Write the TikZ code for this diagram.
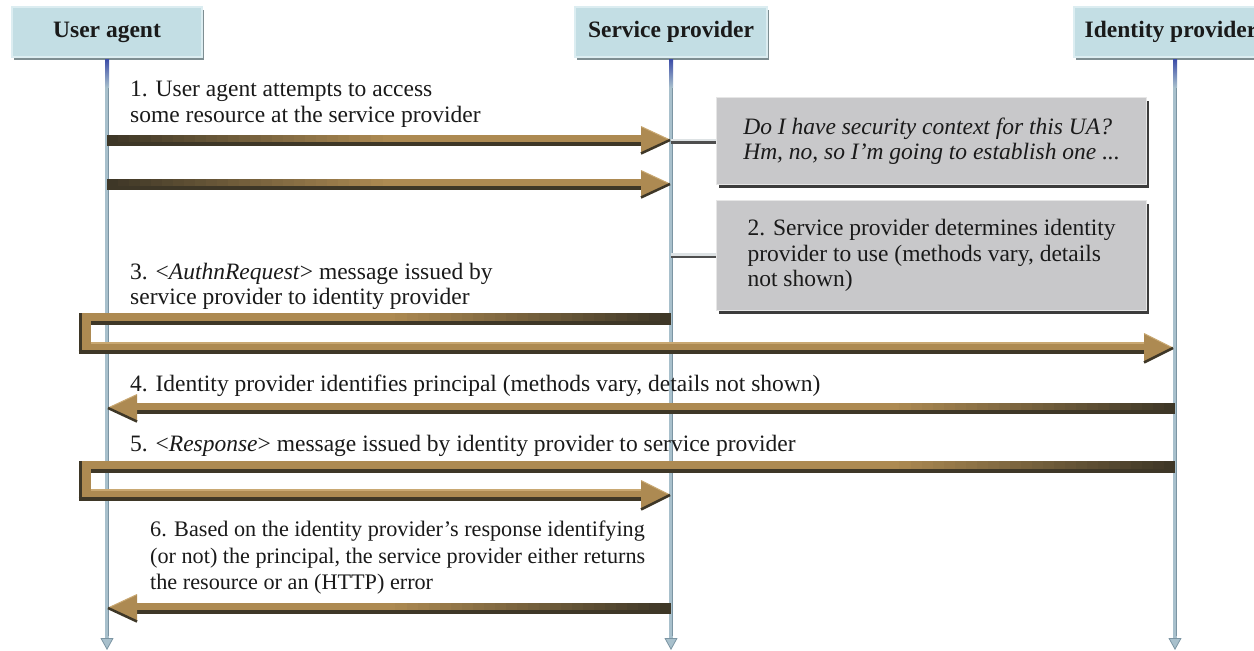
\documentclass[tikz,border=0pt]{standalone}
\usepackage{fontspec}
\setmainfont{Liberation Serif}
\usetikzlibrary{calc,arrows.meta,shadows}
\definecolor{hdrfill}{HTML}{C3DEE4}
\definecolor{hdrline}{HTML}{DCEDF1}
\definecolor{boxfill}{HTML}{C8C8CA}
\definecolor{boxline}{HTML}{E6E6E6}
\definecolor{shadowc}{HTML}{3C3C3C}
\definecolor{hshadow}{HTML}{7E8E92}
\definecolor{lifec}{HTML}{A8C0CC}
\definecolor{lifed}{HTML}{7C95A3}
\definecolor{lifetop}{HTML}{3B4CA8}
\definecolor{gold}{HTML}{AD8A52}
\definecolor{lgold}{HTML}{C9A872}
\definecolor{darkb}{HTML}{3E3727}
\definecolor{txt}{HTML}{1A1A1A}
\definecolor{connlight}{HTML}{DDE2E4}
\definecolor{conndark}{HTML}{4E4E4E}

% gradient at the tail of a message: #1 tail coordinate, #2 direction (1 or -1), #3 top offset, #4 bottom offset
\newcommand\tailgrad[4]{%
  \foreach \i in {0,...,24}{%
    \pgfmathsetmacro\pc{\i*4}%
    \fill[gold!\pc!darkb] ($(#1)+(#2*\i*11,#3)$) rectangle ($(#1)+(#2*\i*11+#2*11.8,#4)$);
  }%
}
\newcommand\msgR[2]{%
  \coordinate (hb) at ($(#2)+(-29,0)$);
  \fill[gold] ($(#1)+(0,-5.5)$) rectangle ($(hb)+(0,5.5)$);
  \tailgrad{#1}{1}{-5.5}{1.5}
  \fill[darkb] ($(#1)+(0,1.5)$) rectangle ($(hb)+(0,5.5)$);
  \fill[gold] (#2) -- ($(hb)+(0,-13.5)$) -- ($(hb)+(0,13.5)$) -- cycle;
  \draw[lgold,line width=1] ($(hb)+(0,-13.5)$) -- (#2);
  \draw[darkb,line width=2.5] ($(hb)+(0,13.5)$) -- (#2);
}
\newcommand\msgL[2]{%
  \coordinate (hb) at ($(#2)+(29,0)$);
  \fill[gold] ($(#1)+(0,-5.5)$) rectangle ($(hb)+(0,5.5)$);
  \tailgrad{#1}{-1}{-5.5}{1.5}
  \fill[darkb] ($(#1)+(0,1.5)$) rectangle ($(hb)+(0,5.5)$);
  \fill[gold] (#2) -- ($(hb)+(0,-13.5)$) -- ($(hb)+(0,13.5)$) -- cycle;
  \draw[lgold,line width=1] ($(hb)+(0,-13.5)$) -- (#2);
  \draw[darkb,line width=2.5] ($(hb)+(0,13.5)$) -- (#2);
}

\begin{document}
\begin{tikzpicture}[x=1pt,y=-1pt,
  hdr/.style={fill=hdrfill, draw=hdrline, line width=1.2pt, minimum height=50pt,
    font=\fontsize{23.5}{26}\selectfont\bfseries, text=txt, inner sep=0pt,
    general shadow={fill=hshadow, shadow xshift=2pt, shadow yshift=-2.5pt}},
  greybox/.style={fill=boxfill, draw=boxline, line width=1.2pt, minimum width=430pt,
    align=left, anchor=north west, inner sep=0pt, text=txt,
    font=\fontsize{23.5}{25.7}\selectfont,
    general shadow={fill=shadowc, shadow xshift=2.5pt, shadow yshift=-3pt}},
  lbl/.style={anchor=west, align=left, inner sep=0pt, text=txt,
    font=\fontsize{23.5}{25.7}\selectfont},
  lifeline/.style={line width=4pt, lifec, -{Triangle[width=13pt,length=12pt,fill=lifec,color=lifed,line width=0.8pt]}},
  connlt/.style={line width=2.6pt, connlight},
  conndk/.style={line width=2.6pt, conndark}
]
\useasboundingbox (0,0) rectangle (1254,651);
\fill[white] (0,0) rectangle (1254,651);

% headers
\node[hdr, minimum width=190pt] (ua) at (107,32) {User agent};
\node[hdr, minimum width=192pt] (sp) at (671,32) {Service provider};
\node[hdr, minimum width=202pt] (idp) at (1175,32) {Identity provider\kern8pt};

% lifeline ends
\coordinate (uaend) at (107,650);
\coordinate (spend) at (671,650);
\coordinate (idpend) at (1175,650);

% lifelines
\foreach \n in {ua,sp,idp}{
  \draw[lifeline] ($(\n.south)+(0,1.5)$) -- (\n end);
  \draw[lifed, line width=1pt] ($(\n.south)+(1.2,1.5)$) -- ($(\n end)+(1.2,-14)$);
  \shade[top color=lifetop, bottom color=lifec] ($(\n.south)+(-2,1.5)$) rectangle ($(\n.south)+(2,30)$);
}

% grey boxes
\node[greybox, minimum height=87pt] (b1) at (716,97) {\itshape Do I have security context for this UA?\\\itshape Hm, no, so I'm going to establish one ...};
\node[greybox, minimum height=110pt] (b2) at (716,200) {2. Service provider determines identity\\provider to use (methods vary, details\\not shown)};

% connectors to boxes
\foreach \b in {b1,b2}{
  \draw[connlt] ($(\b.west -| sp)+(0,-1.3)$) -- ($(\b.west)+(0,-1.3)$);
  \draw[conndk] ($(\b.west -| sp)+(0,1.3)$) -- ($(\b.west)+(0,1.3)$);
}

% message 1 and the repeat
\coordinate (ua1) at (107,140);  \coordinate (sp1) at (670,140);
\msgR{ua1}{sp1}
\coordinate (ua2) at (107,184);  \coordinate (sp2) at (670,184);
\msgR{ua2}{sp2}

% message 3: SP -> (via UA) -> IdP
\coordinate (sp3) at (671,319);
\coordinate (c3a) at (84.5,319);
\coordinate (c3b) at (84.5,348);
\coordinate (idp3) at (1173,348);
\coordinate (hb3) at ($(idp3)+(-29,0)$);
\draw[gold, line width=12pt, line join=miter] (sp3) -- (c3a) -- (c3b) -- (hb3);
\tailgrad{sp3}{-1}{-6}{2}
\draw[darkb, line width=4pt] ($(sp3)+(0,4)$) -- ($(c3a)+(6,4)$);
\draw[darkb, line width=3pt] ($(c3a)+(-4.5,-6)$) -- ($(c3b)+(-4.5,6)$);
\draw[darkb, line width=4pt] ($(c3b)+(-6,4)$) -- ($(hb3)+(0,4)$);
\draw[lgold, line width=1.5pt] ($(c3b)+(6,-5.2)$) -- ($(hb3)+(0,-5.2)$);
\fill[gold] (idp3) -- ($(hb3)+(0,-14.5)$) -- ($(hb3)+(0,14.5)$) -- cycle;
\draw[lgold,line width=1] ($(hb3)+(0,-14.5)$) -- (idp3);
\draw[darkb,line width=2.5] ($(hb3)+(0,14.5)$) -- (idp3);

% message 4
\coordinate (idp4) at (1175,408);  \coordinate (ua4) at (108,408);
\msgL{idp4}{ua4}

% message 5: IdP -> (via UA) -> SP
\coordinate (idp5) at (1175,467);
\coordinate (c5a) at (84.5,467);
\coordinate (c5b) at (84.5,495);
\coordinate (sp5) at (670,495);
\coordinate (hb5) at ($(sp5)+(-29,0)$);
\draw[gold, line width=12pt, line join=miter] (idp5) -- (c5a) -- (c5b) -- (hb5);
\tailgrad{idp5}{-1}{-6}{2}
\draw[darkb, line width=4pt] ($(idp5)+(0,4)$) -- ($(c5a)+(6,4)$);
\draw[darkb, line width=3pt] ($(c5a)+(-4.5,-6)$) -- ($(c5b)+(-4.5,6)$);
\draw[darkb, line width=4pt] ($(c5b)+(-6,4)$) -- ($(hb5)+(0,4)$);
\draw[lgold, line width=1.5pt] ($(c5b)+(6,-5.2)$) -- ($(hb5)+(0,-5.2)$);
\fill[gold] (sp5) -- ($(hb5)+(0,-14.5)$) -- ($(hb5)+(0,14.5)$) -- cycle;
\draw[lgold,line width=1] ($(hb5)+(0,-14.5)$) -- (sp5);
\draw[darkb,line width=2.5] ($(hb5)+(0,14.5)$) -- (sp5);

% message 6
\coordinate (sp6) at (671,608);  \coordinate (ua6) at (108,608);
\msgL{sp6}{ua6}

% labels
\node[lbl] (l1) at (130,104) {1. User agent attempts to access\\some resource at the service provider};
\node[lbl] (l3) at (130,286.5) {3. <\textit{AuthnRequest}> message issued by\\service provider to identity provider};
\node[lbl] (l4) at (130,385.5) {4. Identity provider identifies principal (methods vary, details not shown)};
\node[lbl] (l5) at (130,446) {5. <\textit{Response}> message issued by identity provider to service provider};
\node[lbl, font=\fontsize{22.2}{26.5}\selectfont] (l6) at (150,558) {6. Based on the identity provider's response identifying\\(or not) the principal, the service provider either returns\\the resource or an (HTTP) error};
\end{tikzpicture}
\end{document}
